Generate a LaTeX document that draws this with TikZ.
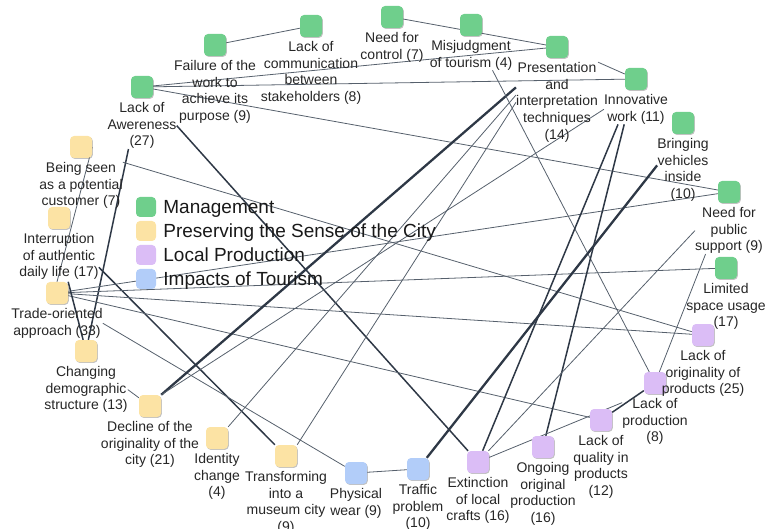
\documentclass[tikz,border=0pt]{standalone}
\usepackage{fontspec}
\setmainfont{Liberation Sans}
\usetikzlibrary{positioning,shadows}
\definecolor{mgmtgreen}{HTML}{6FCF8C}
\definecolor{senseyellow}{HTML}{FCE3A4}
\definecolor{prodpurple}{HTML}{DBBDF6}
\definecolor{tourblue}{HTML}{B2CDF9}
\definecolor{edgegray}{HTML}{56606C}
\definecolor{edgedark}{HTML}{2E3846}
\pgfdeclarelayer{edges}
\pgfsetlayers{edges,main}
\begin{document}
\begin{tikzpicture}[x=1pt,y=-1pt,
    box/.style={rounded corners=4pt,minimum size=22pt,inner sep=0pt,
      drop shadow={shadow xshift=.8pt,shadow yshift=-.9pt,fill=black!60,opacity=.4}},
    mgmt/.style={box,fill=mgmtgreen},
    sense/.style={box,fill=senseyellow},
    prod/.style={box,fill=prodpurple},
    tour/.style={box,fill=tourblue},
    lbl/.style={font=\fontsize{14}{16.7}\selectfont,align=center,inner sep=0pt,text=black!85},
    legbox/.style={rounded corners=4pt,minimum size=20pt,inner sep=0pt},
    legtxt/.style={font=\fontsize{19}{22}\selectfont,inner sep=0pt,text height=13.6pt,text depth=0pt,text=black!90},
    link/.style={draw=edgegray,line width=.8pt},
    strong/.style={draw=edgedark,line width=1.5pt},
    strongest/.style={draw=edgedark,line width=2.3pt}]
    \useasboundingbox (0,0) rectangle (768,529);

    \node[mgmt] (F) at (215,45) {};
    \node[lbl,below=4pt of F] (Fl) {Failure of the\\work to\\achieve its\\purpose (9)};
    \node[mgmt] (LC) at (311,26) {};
    \node[lbl,below=4pt of LC] (LCl) {Lack of\\communication\\between\\stakeholders (8)};
    \node[mgmt] (NC) at (392,17) {};
    \node[lbl,below=4pt of NC] (NCl) {Need for\\control (7)};
    \node[mgmt] (MJ) at (471,25) {};
    \node[lbl,below=4pt of MJ] (MJl) {Misjudgment\\of tourism (4)};
    \node[mgmt] (PI) at (557,47) {};
    \node[lbl,below=4pt of PI] (PIl) {Presentation\\and\\interpretation\\techniques\\(14)};
    \node[mgmt] (IW) at (636,79) {};
    \node[lbl,below=4pt of IW] (IWl) {Innovative\\work (11)};
    \node[mgmt] (BV) at (683,123) {};
    \node[lbl,below=4pt of BV] (BVl) {Bringing\\vehicles\\inside\\(10)};
    \node[mgmt] (PS) at (729,192) {};
    \node[lbl,below=4pt of PS] (PSl) {Need for\\public\\support (9)};
    \node[mgmt] (LS) at (726,268) {};
    \node[lbl,below=4pt of LS] (LSl) {Limited\\space usage\\(17)};
    \node[mgmt] (LA) at (142,87) {};
    \node[lbl,below=4pt of LA] (LAl) {Lack of\\Awereness\\(27)};

    \node[sense] (BS) at (81,147) {};
    \node[lbl,below=4pt of BS] (BSl) {Being seen\\as a potential\\customer (7)};
    \node[sense] (IN) at (59,218) {};
    \node[lbl,below=4pt of IN] (INl) {Interruption\\of authentic\\daily life (17)};
    \node[sense] (TO) at (57,293) {};
    \node[lbl,below=4pt of TO] (TOl) {Trade-oriented\\approach (33)};
    \node[sense] (CD) at (86,351) {};
    \node[lbl,below=4pt of CD] (CDl) {Changing\\demographic\\structure (13)};
    \node[sense] (DO) at (150,406) {};
    \node[lbl,below=4pt of DO] (DOl) {Decline of the\\originality of the\\city (21)};
    \node[sense] (IC) at (217,438) {};
    \node[lbl,below=4pt of IC] (ICl) {Identity\\change\\(4)};
    \node[sense] (TM) at (286,456) {};
    \node[lbl,below=4pt of TM] (TMl) {Transforming\\into a\\museum city\\(9)};

    \node[tour] (PW) at (356,473) {};
    \node[lbl,below=4pt of PW] (PWl) {Physical\\wear (9)};
    \node[tour] (TP) at (418,469) {};
    \node[lbl,below=4pt of TP] (TPl) {Traffic\\problem\\(10)};

    \node[prod] (EX) at (478,462) {};
    \node[lbl,below=4pt of EX] (EXl) {Extinction\\of local\\crafts (16)};
    \node[prod] (OG) at (543,447) {};
    \node[lbl,below=4pt of OG] (OGl) {Ongoing\\original\\production\\(16)};
    \node[prod] (LQ) at (601,420) {};
    \node[lbl,below=4pt of LQ] (LQl) {Lack of\\quality in\\products\\(12)};
    \node[prod] (LP) at (655,383) {};
    \node[lbl,below=4pt of LP] (LPl) {Lack of\\production\\(8)};
    \node[prod] (LO) at (703,335) {};
    \node[lbl,below=4pt of LO] (LOl) {Lack of\\originality of\\products (25)};

    \node[legbox,fill=mgmtgreen] (LGm) at (146,207) {};
    \node[legtxt,right=7pt of LGm] (LGmt) {Management};
    \node[legbox,fill=senseyellow] (LGs) at (146,231) {};
    \node[legtxt,right=7pt of LGs] (LGst) {Preserving the Sense of the City};
    \node[legbox,fill=prodpurple] (LGp) at (146,255) {};
    \node[legtxt,right=7pt of LGp] (LGpt) {Local Production};
    \node[legbox,fill=tourblue] (LGt) at (146,279) {};
    \node[legtxt,right=7pt of LGt] (LGtt) {Impacts of Tourism};

    \begin{pgfonlayer}{edges}
    \draw[link] (F) -- (LC);
    \draw[link] (NC) -- (PI);
    \draw[link] (LA) -- (PI);
    \draw[link] (LA) -- (IW);
    \draw[link] (LA) -- (PS);
    \draw[link] (PIl.north east) -- (IW);
    \draw[strong] (LAl.east) -- (EX);
    \draw[strong] (LAl.240) -- (CD);
    \draw[link] (BS.east) -- (TO.north);
    \draw[link] (BSl.north east) -- (LO);
    \draw[strong] (INl.-15) -- (TM);
    \draw[link] (TO) -- (PS);
    \draw[link] (TO) -- (LS);
    \draw[link] (TO) -- (LO);
    \draw[link] (TO) -- (LQ);
    \draw[link] (TOl.east) -- (PW);
    \draw[strong] (TO.north east) -- (CD);
    \draw[link] (CDl.east) -- (DO);
    \draw[strongest] (DO.north east) -- (PIl.160);
    \draw[link] (IC.north east) -- (PIl.170);
    \draw[link] (TM.north east) -- (PIl.west);
    \draw[link] (DO.north east) -- (IWl.west);
    \draw[link] (MJl.-35) -- (LP);
    \draw[strong] (IWl.220) -- (EX);
    \draw[strong] (IWl.232) -- (OG);
    \draw[strongest] (BVl.170) -- (TP);
    \draw[link] (PSl.west) -- (EX);
    \draw[link] (PSl.225) -- (LP);
    \draw[strong] (LP) -- (LQ);
    \draw[link] (LPl.150) -- (EX);
    \draw[link] (PW) -- (TP);
    \end{pgfonlayer}
\end{tikzpicture}
\end{document}
